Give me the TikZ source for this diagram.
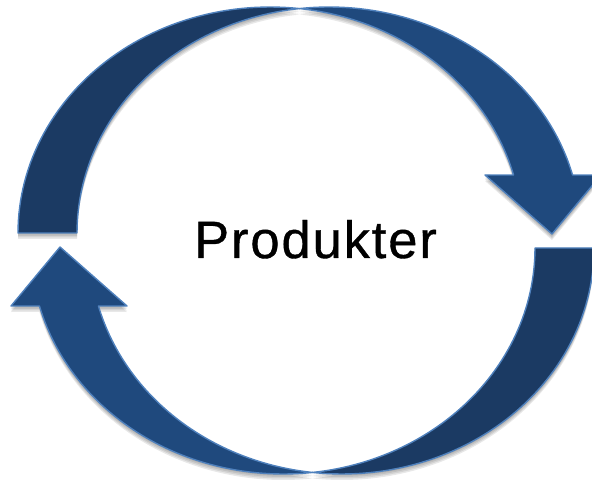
\documentclass[tikz,border=0pt]{standalone}
\usepackage{fontspec}
\setmainfont{Liberation Sans}
\newfontfamily\labelfont[LetterSpace=3.6,FakeBold=0.7]{Liberation Sans}
\definecolor{darkband}{RGB}{27,58,99}
\definecolor{lightband}{RGB}{31,73,125}
\definecolor{bandedge}{RGB}{79,129,189}
\tikzset{
  backpart/.style={insert path={(18,233)
      -- plot[domain=180:83.28,samples=60] ({270+252*cos(\x)},{233-226*sin(\x)})
      -- plot[domain=96.72:180,samples=60] ({329+252*cos(\x)},{233-226*sin(\x)})
      -- cycle}},
  frontpart/.style={insert path={(299.5,8.6)
      -- plot[domain=96.72:14.87,samples=60] ({329+252*cos(\x)},{233-226*sin(\x)})
      -- (601,175) -- (552,234) -- (485,175)
      -- plot[domain=14.87:83.28,samples=60] ({270+252*cos(\x)},{233-226*sin(\x)})
      -- cycle}},
  shadowfill/.style={fill=black,opacity=0.09},
  edge/.style={draw=bandedge,line width=1.4pt,line join=round}
}
\begin{document}
\begin{tikzpicture}[x=1pt,y=-1pt]
\useasboundingbox (0,0) rectangle (592,481);
% shadows
\foreach \d in {1.5,3,4.5,6}{
  \begin{scope}[shift={(0,\d)}]
    \path[shadowfill,backpart];
    \path[shadowfill,frontpart];
  \end{scope}
  \begin{scope}[rotate around={180:(306,240.5)},shift={(0,-\d)}]
    \path[shadowfill,backpart];
    \path[shadowfill,frontpart];
  \end{scope}
}
% top arrow
\path[fill=darkband,edge,backpart];
\path[fill=lightband,edge,frontpart];
% bottom arrow
\begin{scope}[rotate around={180:(306,240.5)}]
  \path[fill=darkband,edge,backpart];
  \path[fill=lightband,edge,frontpart];
\end{scope}
\node[anchor=base,inner sep=0pt,font=\labelfont\fontsize{52.5}{60}\selectfont] (label) at (315.5,258) {Produkter};
\end{tikzpicture}
\end{document}
